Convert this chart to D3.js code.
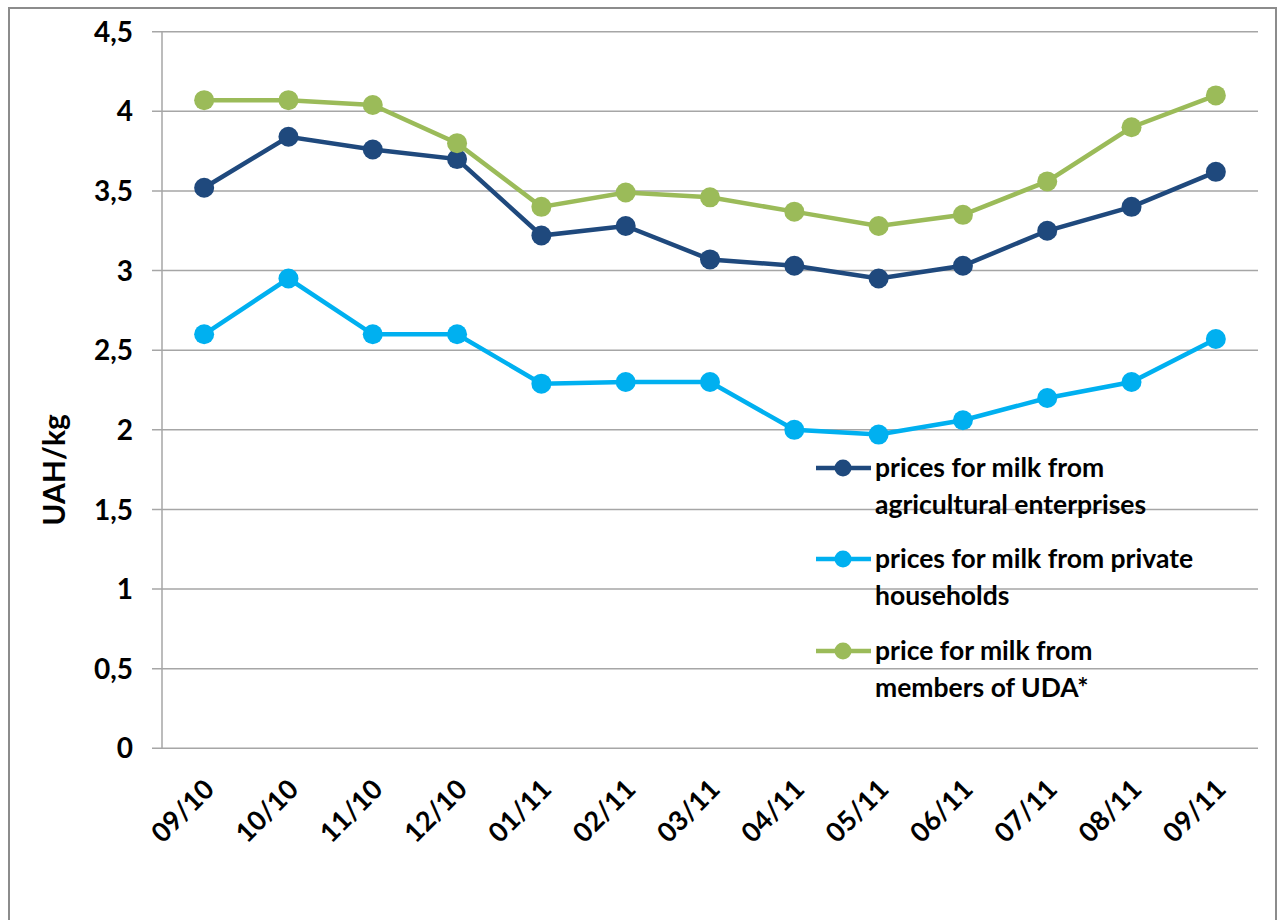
<!DOCTYPE html>
<html>
<head>
<meta charset="utf-8">
<script src="https://cdn.jsdelivr.net/npm/d3@7"></script>
<style>
  body { margin: 0; background: #fff; }
  text { font-family: Lato, "Open Sans", sans-serif; font-weight: bold; fill: #000; }
</style>
</head>
<body>
<script>
// months on the x axis
let months = ["09/10", "10/10", "11/10", "12/10", "01/11", "02/11", "03/11",
              "04/11", "05/11", "06/11", "07/11", "08/11", "09/11"];
// UAH/kg
let agricultural = [3.52, 3.84, 3.76, 3.70, 3.22, 3.28, 3.07, 3.03, 2.95, 3.03, 3.25, 3.40, 3.62];
let households   = [2.60, 2.95, 2.60, 2.60, 2.29, 2.30, 2.30, 2.00, 1.97, 2.06, 2.20, 2.30, 2.57];
let udaMembers   = [4.07, 4.07, 4.04, 3.80, 3.40, 3.49, 3.46, 3.37, 3.28, 3.35, 3.56, 3.90, 4.10];
let yTicks = [0, 0.5, 1, 1.5, 2, 2.5, 3, 3.5, 4, 4.5];

let series = [
    { name: ["prices for milk from", "agricultural enterprises"], values: agricultural, color: "#1f497d" },
    { name: ["prices for milk from private", "households"], values: households, color: "#00b0f0" },
    { name: ["price for milk from", "members of UDA*"], values: udaMembers, color: "#9bbb59" }
];

function draw() {
    let svg = d3.select("body")
        .append("svg")
        .attr("width", 1278)
        .attr("height", 920);

    // outer frame
    svg.append("rect")
        .attr("x", 9).attr("y", 8)
        .attr("width", 1267).attr("height", 930)
        .attr("fill", "none")
        .attr("stroke", "#8c8c8c")
        .attr("stroke-width", 2);

    let left = 162, right = 1258, top = 31.7, bottom = 748.3;

    let x = d3.scaleBand().domain(months).range([left, right]);
    let y = d3.scaleLinear().domain([0, 4.5]).range([bottom, top]);

    // gridlines
    svg.append("g")
        .selectAll("line")
        .data(yTicks)
        .enter()
        .append("line")
        .attr("x1", left - 10)
        .attr("x2", right)
        .attr("y1", d => y(d))
        .attr("y2", d => y(d))
        .attr("stroke", "#a6a6a6")
        .attr("stroke-width", 1.5);

    // y axis line
    svg.append("line")
        .attr("x1", left).attr("x2", left)
        .attr("y1", top).attr("y2", bottom)
        .attr("stroke", "#a6a6a6")
        .attr("stroke-width", 1.5);

    // y tick labels
    svg.append("g")
        .selectAll("text")
        .data(yTicks)
        .enter()
        .append("text")
        .attr("x", 133)
        .attr("y", d => y(d))
        .attr("dy", "0.36em")
        .attr("text-anchor", "end")
        .attr("font-size", 28)
        .text(d => String(d).replace(".", ","));

    // x tick labels
    svg.append("g")
        .selectAll("text")
        .data(months)
        .enter()
        .append("text")
        .attr("transform", d => "translate(" + (x(d) + x.bandwidth() / 2 + 5) + "," + (bottom + 36) + ") rotate(-45)")
        .attr("text-anchor", "end")
        .attr("dy", "0.35em")
        .attr("font-size", 27)
        .text(d => d);

    // axis title
    svg.append("text")
        .attr("transform", "translate(65," + 470 + ") rotate(-90)")
        .attr("text-anchor", "middle")
        .attr("font-size", 30)
        .text("UAH/kg");

    let line = d3.line()
        .x((d, i) => x(months[i]) + x.bandwidth() / 2)
        .y(d => y(d));

    series.forEach(s => {
        svg.append("path")
            .datum(s.values)
            .attr("d", line)
            .attr("fill", "none")
            .attr("stroke", s.color)
            .attr("stroke-width", 4.5);

        svg.append("g")
            .selectAll("circle")
            .data(s.values)
            .enter()
            .append("circle")
            .attr("cx", (d, i) => x(months[i]) + x.bandwidth() / 2)
            .attr("cy", d => y(d))
            .attr("r", 10)
            .attr("fill", s.color);
    });

    // legend
    let legend = svg.append("g");
    let legendY = [468, 559, 651];
    series.forEach((s, i) => {
        let g = legend.append("g").attr("transform", "translate(0," + legendY[i] + ")");
        g.append("line")
            .attr("x1", 816).attr("x2", 871)
            .attr("y1", 0).attr("y2", 0)
            .attr("stroke", s.color)
            .attr("stroke-width", 4.5);
        g.append("circle")
            .attr("cx", 843).attr("cy", 0)
            .attr("r", 8.5)
            .attr("fill", s.color);
        s.name.forEach((t, j) => {
            g.append("text")
                .attr("x", 875)
                .attr("y", j * 37)
                .attr("dy", "0.35em")
                .attr("font-size", 26.5)
                .text(t);
        });
    });
}

draw();
</script>
</body>
</html>
